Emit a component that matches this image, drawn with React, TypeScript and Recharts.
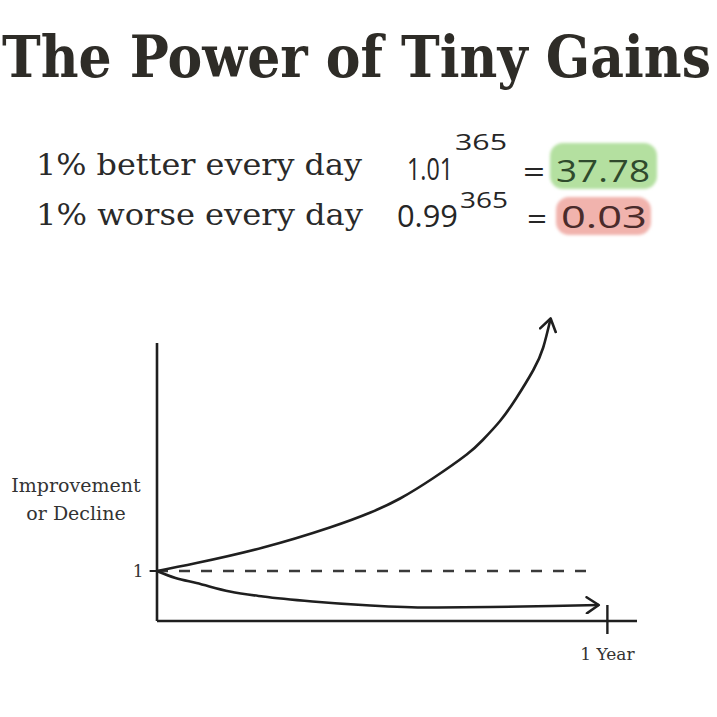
import { useLayoutEffect, useRef, useState } from "react";
import { LineChart, Line, XAxis, YAxis, ReferenceLine, Label } from "recharts";

// 1% better: value (arbitrary units, 1 = start level)
const gainDays = [0, 32, 86, 140, 173, 197, 224, 251, 264, 278, 291, 305, 313, 319];
const gainValues = [1, 1.16, 1.47, 1.87, 2.17, 2.45, 2.86, 3.33, 3.62, 4.0, 4.45, 5.02, 5.47, 6.05];

// 1% worse
const lossDays = [0, 15, 32, 59, 86, 126, 173, 220, 270, 320, 358];
const lossValues = [1, 0.86, 0.76, 0.59, 0.49, 0.39, 0.31, 0.27, 0.28, 0.3, 0.32];

const BASELINE = 1;
const BASELINE_END = 355;
const YEAR_DAY = 365;
const X_MAX = 389;
const Y_AXIS_TOP = 5.56;

const TITLE = "The Power of Tiny Gains";
const ROW_LABELS = ["1% better every day", "1% worse every day"];
const BASES = ["1.01", "0.99"];
const EXPONENT = "365";
const RESULTS = ["37.78", "0.03"];

const INK = "#1f1f1f";
const SERIF = "'DejaVu Serif', 'Liberation Serif', serif";
const HAND = "'Open Sans', 'Lato', sans-serif";

const gainData = gainDays.map((d, i) => ({ d, v: gainValues[i] }));
const lossData = lossDays.map((d, i) => ({ d, v: lossValues[i] }));

// text squeezed horizontally to a given width (measured after mount)
function FitText({ x, y, width, children, ...rest }: any) {
  const ref = useRef<SVGTextElement>(null);
  const [sx, setSx] = useState(1);
  useLayoutEffect(() => {
    if (ref.current) {
      const w = ref.current.getComputedTextLength();
      if (w > 0) setSx(width / w);
    }
  }, [width]);
  return (
    <text ref={ref} transform={`translate(${x},${y}) scale(${sx},1)`} {...rest}>
      {children}
    </text>
  );
}

function Header() {
  return (
    <svg
      width={717}
      height={717}
      style={{ position: "absolute", left: 0, top: 0, pointerEvents: "none" }}
    >
      <defs>
        <filter id="soft" x="-10%" y="-10%" width="120%" height="120%">
          <feGaussianBlur stdDeviation="1.6" />
        </filter>
      </defs>
      <FitText x={2} y={77} width={709} fontFamily={SERIF} fontWeight="bold" fontSize={58} fill="#2e2c27">
        {TITLE}
      </FitText>

      <FitText x={36} y={175} width={326} fontFamily={SERIF} fontSize={30} fill="#2a2a2a">
        {ROW_LABELS[0]}
      </FitText>
      <FitText x={36} y={225} width={327} fontFamily={SERIF} fontSize={30} fill="#2a2a2a">
        {ROW_LABELS[1]}
      </FitText>

      <rect x={550} y={143} width={107} height={46} rx={13} fill="#b4e0a0" filter="url(#soft)" />
      <rect x={556} y={197} width={95} height={38} rx={13} fill="#f1b3ad" filter="url(#soft)" />

      <g fontFamily={HAND} fill="#262626">
        <FitText x={407} y={180} width={46} fontSize={31}>{BASES[0]}</FitText>
        <FitText x={455} y={150} width={52} fontSize={21}>{EXPONENT}</FitText>
        <FitText x={523} y={182} width={22} fontSize={30}>=</FitText>
        <FitText x={556} y={182} width={94} fontSize={31} fill="#2f4a2c">{RESULTS[0]}</FitText>

        <FitText x={397} y={227} width={61} fontSize={31}>{BASES[1]}</FitText>
        <FitText x={460} y={208} width={48} fontSize={21}>{EXPONENT}</FitText>
        <FitText x={527} y={229} width={20} fontSize={30}>=</FitText>
        <FitText x={561} y={228} width={86} fontSize={31} fill="#4a2b2b">{RESULTS[1]}</FitText>
      </g>

      <g fontFamily={SERIF} fontSize={19} fill="#333" textAnchor="middle">
        <text x={76} y={492}>Improvement</text>
        <text x={76} y={520}>or Decline</text>
      </g>
    </svg>
  );
}

export default function App() {
  return (
    <div style={{ position: "absolute", left: 0, top: 0, width: 717, height: 717, background: "#fff" }}>
      <LineChart width={717} height={717} margin={{ top: 311, right: 80, bottom: 71, left: 157 }}>
        <defs>
          <marker
            id="arrowHead"
            viewBox="0 0 16 18"
            refX={14}
            refY={9}
            markerWidth={16}
            markerHeight={18}
            markerUnits="userSpaceOnUse"
            orient="auto"
          >
            <path d="M2,1 L14,9 L2,17" fill="none" stroke={INK} strokeWidth={2.6} strokeLinecap="round" strokeLinejoin="round" />
          </marker>
        </defs>
        <XAxis hide type="number" dataKey="d" domain={[0, X_MAX]} allowDataOverflow />
        <YAxis hide type="number" domain={[-0.5, 6.2]} allowDataOverflow />

        {/* axes drawn as segments so they stop where the sketch stops */}
        <ReferenceLine segment={[{ x: 0, y: 0 }, { x: 0, y: Y_AXIS_TOP }]} stroke={INK} strokeWidth={2.6} ifOverflow="visible" />
        <ReferenceLine segment={[{ x: 0, y: 0 }, { x: X_MAX, y: 0 }]} stroke={INK} strokeWidth={2.6} ifOverflow="visible" />
        <ReferenceLine segment={[{ x: YEAR_DAY, y: 0.32 }, { x: YEAR_DAY, y: -0.26 }]} stroke={INK} strokeWidth={2.4} ifOverflow="visible">
          <Label value="1 Year" position="bottom" offset={14} fontFamily={SERIF} fontSize={17} fill="#333" />
        </ReferenceLine>
        <ReferenceLine segment={[{ x: -6, y: BASELINE }, { x: 0, y: BASELINE }]} stroke={INK} strokeWidth={2} ifOverflow="visible">
          <Label value="1" position="left" offset={6} fontFamily={SERIF} fontSize={17} fill="#333" />
        </ReferenceLine>
        <ReferenceLine
          segment={[{ x: 0, y: BASELINE }, { x: BASELINE_END, y: BASELINE }]}
          stroke="#3a3a3a"
          strokeWidth={2.4}
          strokeDasharray="11 11"
          ifOverflow="visible"
        />

        <Line
          data={gainData}
          dataKey="v"
          type="natural"
          stroke={INK}
          strokeWidth={2.6}
          dot={false}
          activeDot={false}
          markerEnd="url(#arrowHead)"
          isAnimationActive={false}
        />
        <Line
          data={lossData}
          dataKey="v"
          type="monotone"
          stroke={INK}
          strokeWidth={2.6}
          dot={false}
          activeDot={false}
          markerEnd="url(#arrowHead)"
          isAnimationActive={false}
        />
      </LineChart>
      <Header />
    </div>
  );
}
